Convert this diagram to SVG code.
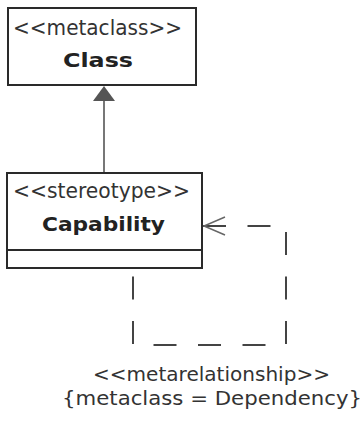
<svg xmlns="http://www.w3.org/2000/svg" width="364" height="423" viewBox="0 0 364 423">
<defs>
<style>
.box{fill:#fff;stroke:#2a2a2a;stroke-width:2}
.st{font-family:"DejaVu Sans",Verdana,sans-serif;font-size:21px;fill:#333}
.nm{font-family:"DejaVu Sans",Verdana,sans-serif;font-size:20px;font-weight:bold;fill:#222}
.lbl{font-family:"DejaVu Sans",Verdana,sans-serif;font-size:20px;fill:#333}
</style>
</defs>
<rect width="364" height="423" fill="#fff"/>
<g id="connectors">
<line x1="104" y1="100" x2="104" y2="173" stroke="#555" stroke-width="1.6"/>
<polygon points="104,86 93,101 115,101" fill="#555"/>
<path d="M203,226 H286 V345 H133 V276" fill="none" stroke="#444" stroke-width="2" stroke-dasharray="23 21.5"/>
<path d="M225,217 L204,226 L225,235" fill="none" stroke="#666" stroke-width="1.5"/>
<g id="label">
<text class="lbl" x="93" y="381" textLength="237" lengthAdjust="spacingAndGlyphs">&lt;&lt;metarelationship&gt;&gt;</text>
<text class="lbl" x="62" y="405" textLength="300" lengthAdjust="spacingAndGlyphs">{metaclass = Dependency}</text>
</g>
</g>
<g id="class">
<rect class="box" x="8" y="8" width="188" height="77"/>
<text class="st" x="13" y="35" textLength="169" lengthAdjust="spacingAndGlyphs">&lt;&lt;metaclass&gt;&gt;</text>
<text class="nm" x="63" y="67" textLength="70" lengthAdjust="spacingAndGlyphs">Class</text>
</g>
<g id="capability">
<rect class="box" x="7" y="173" width="195" height="95"/>
<line x1="7" y1="250" x2="202" y2="250" stroke="#2a2a2a" stroke-width="2"/>
<text class="st" x="13" y="198" textLength="177" lengthAdjust="spacingAndGlyphs">&lt;&lt;stereotype&gt;&gt;</text>
<text class="nm" x="42" y="231" textLength="123" lengthAdjust="spacingAndGlyphs">Capability</text>
</g>
</svg>
